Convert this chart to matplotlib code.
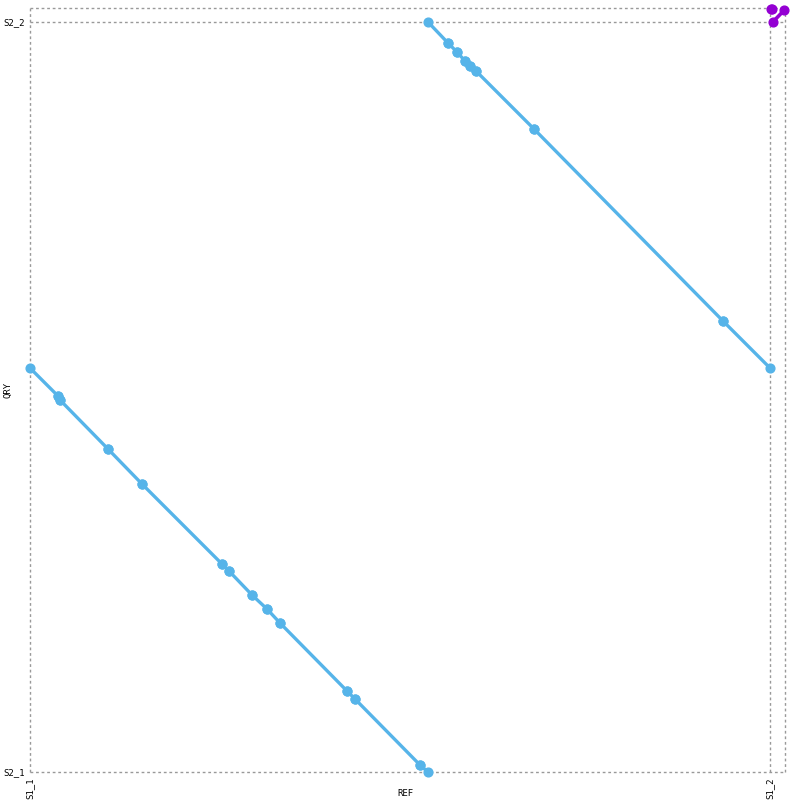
import numpy as np
import matplotlib.pyplot as plt

# reference / query sequence offsets (bp)
ref_names = ['S1_1', 'S1_2']
ref_offsets = [0, 3700000]
ref_total = 3775000
qry_names = ['S2_1', 'S2_2']
qry_offsets = [0, 3750000]
qry_total = 3820000

# alignment end points (ref, qry) along each chain of reverse hits
rev_chain1_ref = [0, 140000, 150000, 390000, 560000, 960000, 995000, 1110000,
                  1185000, 1250000, 1585000, 1625000, 1950000, 1990000]
rev_chain1_qry = [2020000, 1880000, 1860000, 1615000, 1440000, 1040000, 1005000, 885000,
                  815000, 745000, 405000, 365000, 35000, 0]
rev_chain2_ref = [1990000, 2090000, 2135000, 2175000, 2200000, 2230000, 2520000, 3465000, 3700000]
rev_chain2_qry = [3750000, 3645000, 3600000, 3555000, 3530000, 3505000, 3215000, 2255000, 2020000]

# forward hits (ref start, ref end, qry start, qry end)
fwd_ref_start = [3713000, 3707000]
fwd_ref_end = [3771000, 3709000]
fwd_qry_start = [3749000, 3815000]
fwd_qry_end = [3809000, 3816000]

rev_color = '#56B4E9'
fwd_color = '#9400D3'
mono = 'DejaVu Sans Mono'

fig = plt.figure(figsize=(8, 8), dpi=100)
ax = fig.add_axes([30 / 800, 28 / 800, 755 / 800, 764 / 800])

# grid lines at sequence boundaries
for x in ref_offsets + [ref_total]:
    ax.axvline(x, color='#999999', lw=1, ls=(0, (2, 2)), zorder=0, clip_on=False)
for y in qry_offsets + [qry_total]:
    ax.axhline(y, color='#999999', lw=1, ls=(0, (2, 2)), zorder=0, clip_on=False)

for xs, ys in [(rev_chain1_ref, rev_chain1_qry), (rev_chain2_ref, rev_chain2_qry)]:
    xs = np.array(xs)
    ys = np.array(ys)
    for i in range(len(xs) - 1):
        ax.plot(xs[i:i + 2], ys[i:i + 2], color=rev_color, lw=2.4, marker='o',
                ms=6.3, clip_on=False)

for i in range(len(fwd_ref_start)):
    ax.plot([fwd_ref_start[i], fwd_ref_end[i]], [fwd_qry_start[i], fwd_qry_end[i]],
            color=fwd_color, lw=2.6, marker='o', ms=6.3, clip_on=False)

ax.set_xlim(0, ref_total)
ax.set_ylim(0, qry_total)
for s in ax.spines.values():
    s.set_visible(False)

ax.set_xticks(ref_offsets)
ax.set_xticklabels(ref_names, rotation=90, fontsize=6.5, family=mono)
ax.set_yticks(qry_offsets)
ax.set_yticklabels(qry_names, fontsize=6.5, family=mono)
ax.tick_params(length=0, pad=4)

fig.text(405 / 800, 1 - 793 / 800, 'REF', fontsize=6.5, family=mono,
         ha='center', va='center')
fig.text(8 / 800, 1 - 390 / 800, 'QRY', fontsize=6.5, family=mono,
         ha='center', va='center', rotation=90)

fig.savefig('out.png', dpi=100)
